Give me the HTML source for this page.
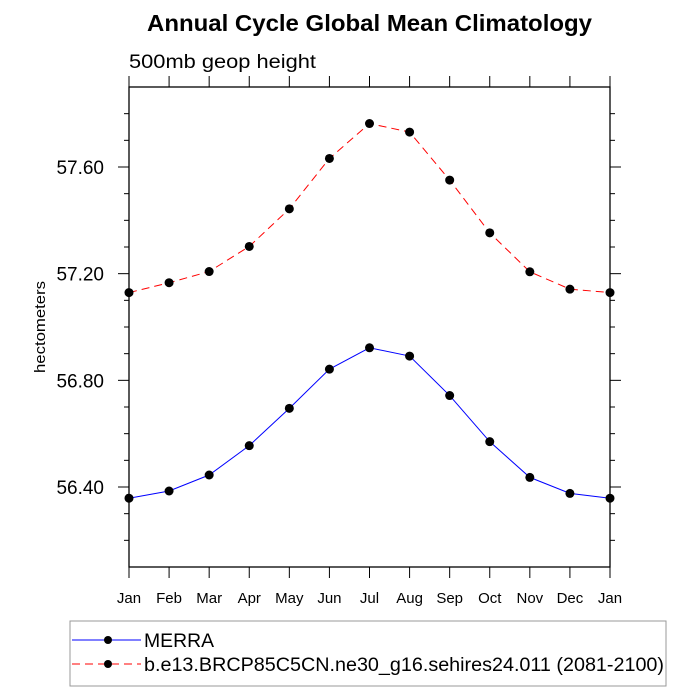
<!DOCTYPE html>
<html><head><meta charset="utf-8"><style>
body{margin:0;background:#fff}
svg{display:block;font-family:"Liberation Sans",Arial,sans-serif}
</style></head><body>
<svg id="chart" width="700" height="700" viewBox="0 0 700 700">
<text x="147" y="31" font-size="23" font-weight="bold" textLength="445" lengthAdjust="spacingAndGlyphs">Annual Cycle Global Mean Climatology</text>
<text x="129" y="68" font-size="19" textLength="187" lengthAdjust="spacingAndGlyphs">500mb geop height</text>
<text transform="translate(45,327) rotate(-90)" text-anchor="middle" font-size="15" textLength="92" lengthAdjust="spacingAndGlyphs">hectometers</text>
<g id="axes"></g>
<g id="series"></g>
<rect x="70" y="621" width="596" height="65" fill="none" stroke="#999" stroke-width="1"/>
<line x1="72" y1="640" x2="141" y2="640" stroke="#0000ff" stroke-width="1"/>
<circle cx="108" cy="640" r="4" fill="#000"/>
<text x="144" y="647" font-size="19" textLength="70" lengthAdjust="spacingAndGlyphs">MERRA</text>
<line x1="72" y1="664" x2="141" y2="664" stroke="#ff0000" stroke-width="1" stroke-dasharray="8,5"/>
<circle cx="108" cy="664" r="4" fill="#000"/>
<text x="144" y="671" font-size="19" textLength="520" lengthAdjust="spacingAndGlyphs">b.e13.BRCP85C5CN.ne30_g16.sehires24.011 (2081-2100)</text>
</svg>
<script>
const months=["Jan","Feb","Mar","Apr","May","Jun","Jul","Aug","Sep","Oct","Nov","Dec","Jan"];
const merra=[56.358,56.385,56.445,56.555,56.695,56.842,56.922,56.891,56.743,56.570,56.436,56.376,56.358];
const model=[57.129,57.166,57.208,57.302,57.443,57.632,57.763,57.731,57.551,57.353,57.207,57.142,57.129];
const yTicks=[56.4,56.8,57.2,57.6];
const yTickLabels=["56.40","56.80","57.20","57.60"];
const yMin=56.1,yMax=57.9;
const L=129,R=610,T=87,B=567;
const NS="http://www.w3.org/2000/svg";
function xs(i){return L+(R-L)*i/(months.length-1);}
function ys(v){return B-(v-yMin)/(yMax-yMin)*(B-T);}
function mk(tag,attrs,parent){const e=document.createElementNS(NS,tag);for(const k in attrs)e.setAttribute(k,attrs[k]);parent.appendChild(e);return e;}
const ax=document.getElementById('axes'),sr=document.getElementById('series');
let fr=mk('rect',{x:L,y:T,width:R-L,height:B-T,fill:'none',stroke:'#000','stroke-width':1.3},ax);


months.forEach((m,i)=>{
  const x=xs(i);
  let t=mk('line',{x1:x,y1:B,x2:x,y2:B+11,stroke:'#000'},ax);
  
  
  let t2=mk('line',{x1:x,y1:T,x2:x,y2:T-11,stroke:'#000'},ax);
  
  
  let lb=mk('text',{x:x,y:B+36,'text-anchor':'middle','font-size':15},ax);
  lb.textContent=m;
  
  
});
for(let k=1;k<18;k++){
  const v=yMin+k*0.1;const y=ys(v);
  const major=yTicks.some(t=>Math.abs(t-v)<1e-6);
  const len=major?11:5;
  let a=mk('line',{x1:L-len,y1:y,x2:L,y2:y,stroke:'#000'},ax);
  
  
  let b=mk('line',{x1:R,y1:y,x2:R+len,y2:y,stroke:'#000'},ax);
  
  
}
yTicks.forEach((v,i)=>{
  let lb=mk('text',{x:L-25,y:ys(v)+7,'text-anchor':'end','font-size':19},ax);
  lb.textContent=yTickLabels[i];
  
  
});
function series(vals,color,dash,name){
  const pts=vals.map((v,i)=>xs(i)+','+ys(v)).join(' ');
  let pl=mk('polyline',{points:pts,fill:'none',stroke:color,'stroke-width':1,'stroke-dasharray':dash},sr);
  
  
  vals.forEach((v,i)=>{
    let c=mk('circle',{cx:xs(i),cy:ys(v),r:4.5,fill:'#000'},sr);
    
    
  });
}
series(model,'#ff0000','8,5','model');
series(merra,'#0000ff','none','merra');
</script>
</body></html>
